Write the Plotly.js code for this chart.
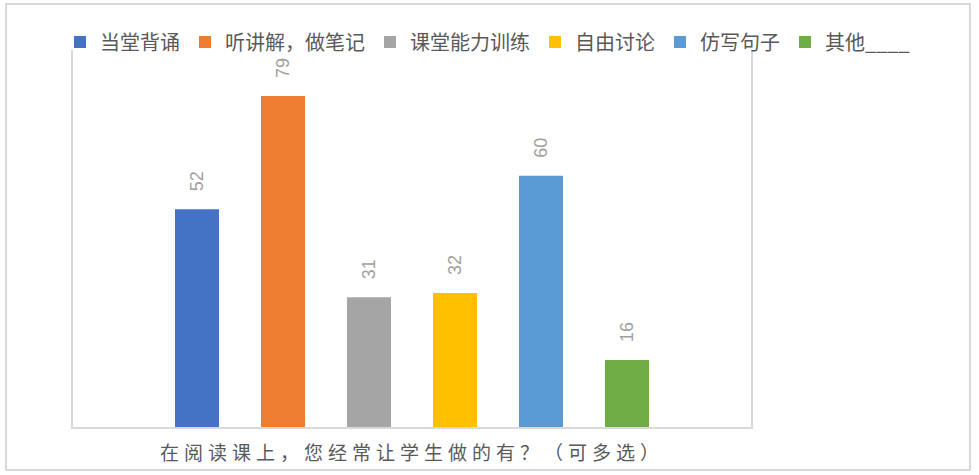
<!DOCTYPE html>
<html>
<head>
<meta charset="utf-8">
<script src="https://cdn.plot.ly/plotly-3.0.1.min.js"></script>
<style>
body { margin: 0; background: #fff; }
#frame { position: absolute; left: 5px; top: 3px; width: 962px; height: 464px; border: 2px solid #d9d9d9; pointer-events: none; }
#chart { position: absolute; left: 0; top: 0; width: 979px; height: 475px; }
.xtick text { letter-spacing: 5px; }
</style>
</head>
<body>
<div id="chart"></div>
<div id="frame"></div>
<script>
var category = ["在阅读课上，您经常让学生做的有？（可多选）"];
var seriesNames = ["当堂背诵", "听讲解，做笔记", "课堂能力训练", "自由讨论", "仿写句子", "其他____"];
var seriesValues = [52, 79, 31, 32, 60, 16];
var seriesColors = ["#4472c4", "#ed7d31", "#a5a5a5", "#ffc000", "#5b9bd5", "#70ad47"];

var fontCJK = '"Noto Sans CJK SC", "Noto Sans", sans-serif';

// plot box in pixels (from the picture): left 73, right 751, top 50, bottom 427
var W = 979, H = 475;
var mL = 6, mR = 10, mT = 4, mB = 48;
var gw = W - mL - mR, gh = H - mT - mB;

var data = [];
for (var i = 0; i < seriesNames.length; i++) {
    data.push({
        type: 'bar',
        name: seriesNames[i],
        x: category,
        y: [seriesValues[i]],
        marker: { color: seriesColors[i] },
        text: [String(seriesValues[i])],
        // padding so the rotated label sits a bit above the bar, like Excel
        texttemplate: '\u00a0\u00a0\u00a0%{text}',
        textposition: 'outside',
        textangle: -90,
        textfont: { family: 'Liberation Sans, Arial, sans-serif', size: 18, color: '#a0a0a0' },
        cliponaxis: false,
        hoverinfo: 'name+y'
    });
}

var layout = {
    width: W,
    height: H,
    margin: { l: mL, r: mR, t: mT, b: mB },
    paper_bgcolor: 'rgba(0,0,0,0)',
    plot_bgcolor: 'rgba(0,0,0,0)',
    font: { family: fontCJK, color: '#595959' },
    barmode: 'group',
    bargap: 0.239,
    bargroupgap: 0.488,
    showlegend: true,
    legend: {
        orientation: 'h',
        x: 0.5, xanchor: 'center',
        y: (H - mB - 42) / gh, yanchor: 'middle',
        font: { family: fontCJK, size: 20, color: '#595959' },
        traceorder: 'normal',
        itemwidth: 30,
        bgcolor: 'rgba(0,0,0,0)'
    },
    xaxis: {
        type: 'category',
        domain: [(73 - mL) / gw, (751 - mL) / gw],
        showline: true, linecolor: '#d9d9d9', linewidth: 2,
        showgrid: false, zeroline: false, ticks: '',
        ticklabelstandoff: 8,
        tickfont: { family: fontCJK, size: 19, color: '#595959' },
        fixedrange: true
    },
    yaxis: {
        range: [0, 90],
        domain: [0, (427 - 50) / gh],
        showline: true, mirror: true, linecolor: '#d9d9d9', linewidth: 2,
        showgrid: false, zeroline: false, showticklabels: false, ticks: '',
        fixedrange: true
    }
};

Plotly.newPlot('chart', data, layout, { displayModeBar: false, staticPlot: true });
</script>
</body>
</html>
